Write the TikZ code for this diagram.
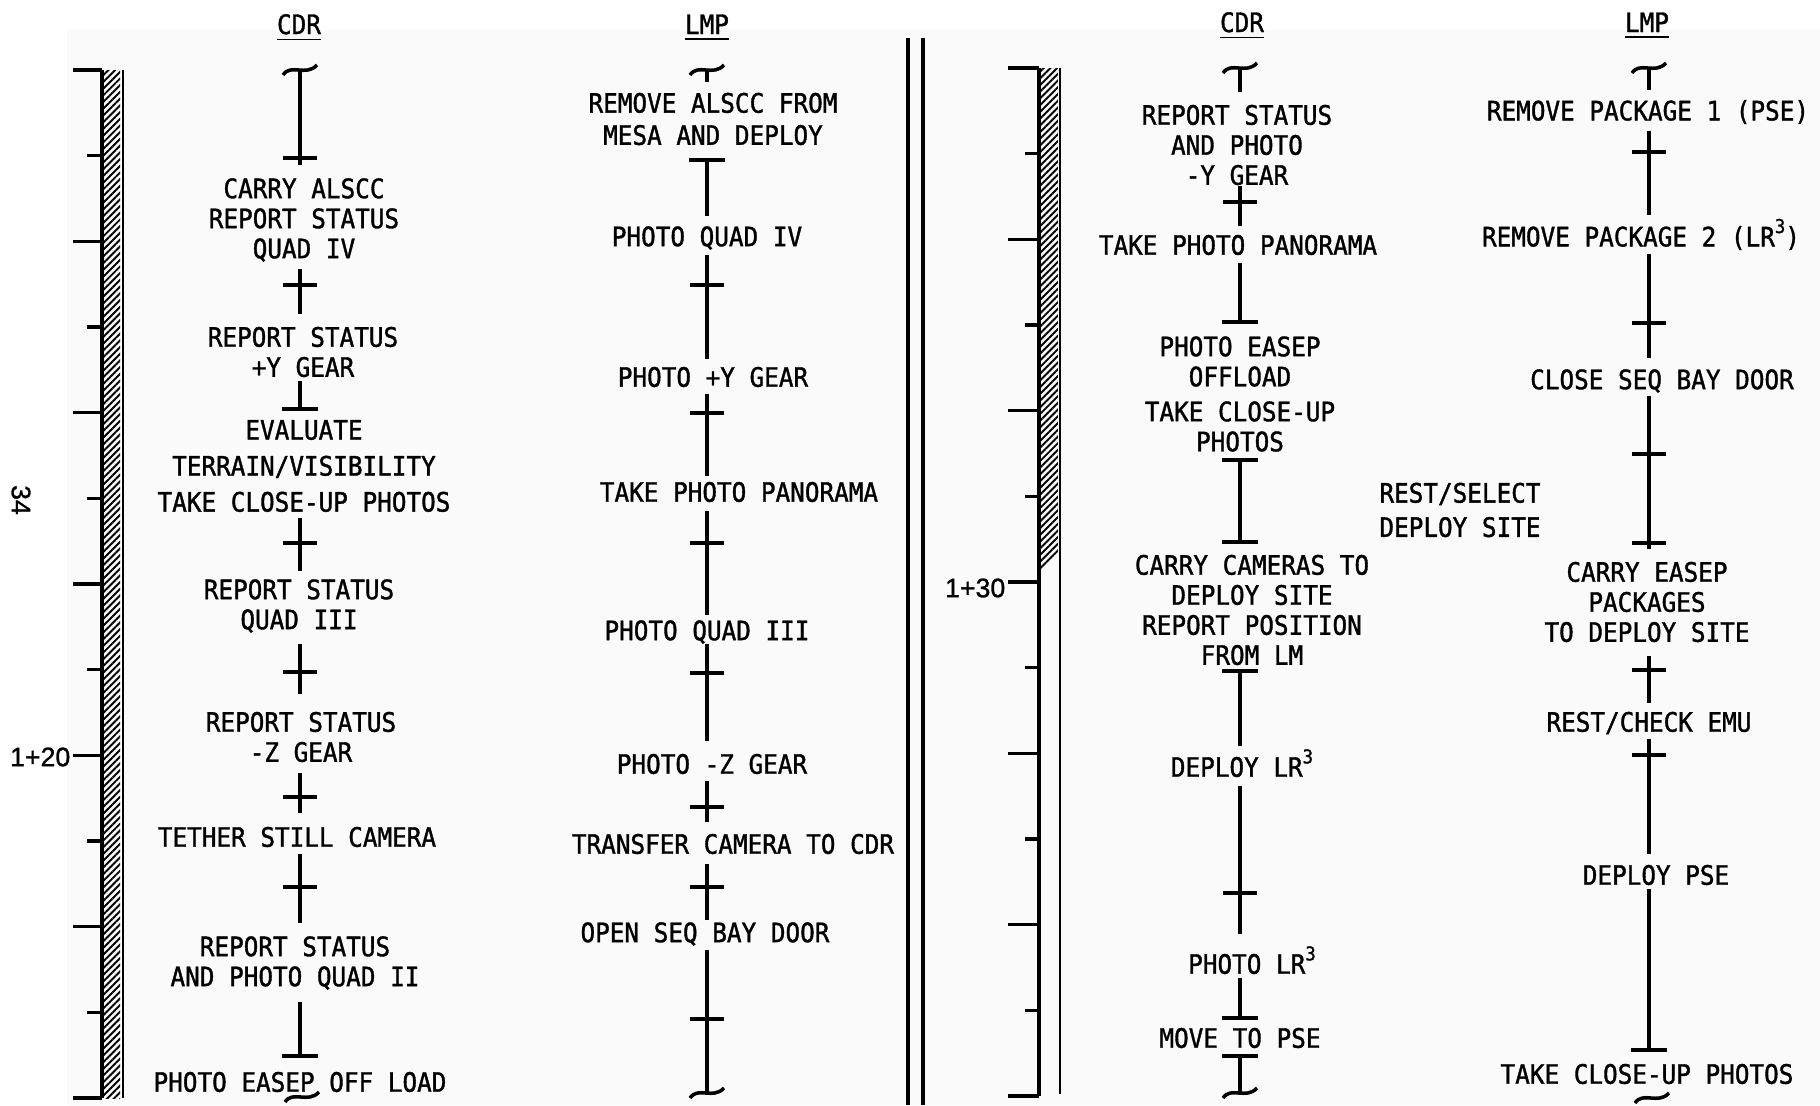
\documentclass[tikz,border=0pt]{standalone}
\usepackage{fontspec}
\usepackage{tikz}
\usetikzlibrary{arrows.meta,patterns.meta}
\newfontfamily\chkfont[FakeStretch=0.91,FakeBold=1.3]{DejaVu Sans Mono}
\newfontfamily\numfont[FakeBold=1]{Liberation Sans}
\newcommand\cubed{\smash{\raisebox{0.5em}{\fontsize{5.4}{5}\selectfont 3}}}
\tikzset{
  stepnote/.style={font=\chkfont\fontsize{7.6}{8.54}\selectfont, align=center, inner sep=0pt},
  headnote/.style={font=\chkfont\fontsize{7.6}{8.54}\selectfont, inner sep=0pt, anchor=base},
  timenote/.style={font=\numfont\fontsize{7.6}{9}\selectfont, inner sep=0pt},
  segline/.style={line width=1.1pt},
  barstart/.style={segline, arrows={Bar[width=0.36cm]-}},
  barend/.style={segline, arrows={-Bar[width=0.36cm]}},
  barboth/.style={segline, arrows={Bar[width=0.36cm]-Bar[width=0.36cm]}},
  axisline/.style={line width=1.2pt},
  thinaxis/.style={line width=0.8pt},
  tickline/.style={line width=1.0pt},
  hatchfill/.style={pattern={Lines[angle=45,distance=1.35pt,line width=0.55pt]}},
  crossmark/.pic={\draw[line width=0.9pt] (-17,0) -- (17,0);},
  breakmark/.pic={\draw[line width=1.0pt] (-17,5) .. controls (-9,-7) and (6,7) .. (17,-5);}
}
\begin{document}
\begin{tikzpicture}[x=0.01cm, y=-0.01cm]
    \useasboundingbox (0,0) rectangle (1820,1105);
    \fill[black!2] (67,30) rectangle (1820,1105);

    \path[hatchfill] (102,70) rectangle (120,1098);
    \draw[axisline] (102,70) -- (102,1098);
    \draw[thinaxis] (123,70) -- (123,1098);
    \foreach \i in {0,...,12}{
      \pgfmathsetmacro\yy{70+85.67*\i}
      \ifodd\i \draw[tickline] (87,\yy) -- (102,\yy); \else \draw[tickline] (73,\yy) -- (102,\yy); \fi
    }
    \begin{scope}
      \clip (1039,68) -- (1058,68) -- (1058,552) -- (1041,570) -- cycle;
      \path[hatchfill] (1039,68) rectangle (1058,570);
    \end{scope}
    \draw[axisline] (1039,68) -- (1039,1096);
    \draw[thinaxis] (1060,68) -- (1060,1094);
    \foreach \i in {0,...,12}{
      \pgfmathsetmacro\yy{68+85.67*\i}
      \ifodd\i \draw[tickline] (1025,\yy) -- (1039,\yy); \else \draw[tickline] (1008,\yy) -- (1039,\yy); \fi
    }
    \draw[axisline] (908,38) -- (908,1105);
    \draw[axisline] (923,38) -- (923,1105);

    \node[timenote, anchor=east] (time120) at (71,757) {1+20};
    \node[timenote, anchor=east] (time130) at (1006,588) {1+30};
    \node[timenote, rotate=-90] (pagenum) at (21,500) {34};

    \node[headnote] (lcdrhead) at (299,34) {\underline{CDR}};
    \node[headnote] (llmphead) at (707,34) {\underline{LMP}};
    \node[headnote] (rcdrhead) at (1242,32) {\underline{CDR}};
    \node[headnote] (rlmphead) at (1647,32) {\underline{LMP}};

    \coordinate (lcdrx) at (300,0);
    \coordinate (lcdr0) at (300,70);
    \node[stepnote] (lcdr1) at (304,220) {CARRY ALSCC\\REPORT STATUS\\QUAD IV};
    \node[stepnote] (lcdr2) at (303,352) {REPORT STATUS\\+Y GEAR};
    \node[stepnote] (lcdr3) at (304,466) {EVALUATE\\[1.7pt]TERRAIN/VISIBILITY\\[1.7pt]TAKE CLOSE-UP PHOTOS};
    \node[stepnote] (lcdr4) at (299,606) {REPORT STATUS\\QUAD III};
    \node[stepnote] (lcdr5) at (301,737) {REPORT STATUS\\-Z GEAR};
    \node[stepnote] (lcdr6) at (297,837) {TETHER STILL CAMERA};
    \node[stepnote] (lcdr7) at (295,963) {REPORT STATUS\\AND PHOTO QUAD II};
    \node[stepnote] (lcdr8) at (300,1082) {PHOTO EASEP OFF LOAD};
    \pic at (lcdr0) {breakmark};
    \draw[segline, shorten >=0.13cm] (lcdr0) -- (lcdr1.north -| lcdrx);
    \pic at (300,158) {crossmark};
    \draw[segline, shorten <=0.07cm, shorten >=0.12cm] (lcdr1.south -| lcdrx) -- (lcdr2.north -| lcdrx);
    \pic at (300,285) {crossmark};
    \draw[barend, shorten <=0.03cm, shorten >=0.08cm] (lcdr2.south -| lcdrx) -- (lcdr3.north -| lcdrx);
    \draw[segline, shorten <=0.05cm, shorten >=0.08cm] (lcdr3.south -| lcdrx) -- (lcdr4.north -| lcdrx);
    \pic at (300,543) {crossmark};
    \draw[segline, shorten <=0.11cm, shorten >=0.17cm] (lcdr4.south -| lcdrx) -- (lcdr5.north -| lcdrx);
    \pic at (300,672) {crossmark};
    \draw[segline, shorten <=0.10cm, shorten >=0.13cm] (lcdr5.south -| lcdrx) -- (lcdr6.north -| lcdrx);
    \pic at (300,797) {crossmark};
    \draw[segline, shorten <=0.06cm, shorten >=0.13cm] (lcdr6.south -| lcdrx) -- (lcdr7.north -| lcdrx);
    \pic at (300,887) {crossmark};
    \draw[barend, shorten <=0.12cm, shorten >=0.13cm] (lcdr7.south -| lcdrx) -- (lcdr8.north -| lcdrx);
    \pic at (302,1097) {breakmark};

    \coordinate (llmpx) at (707,0);
    \coordinate (llmp0) at (707,70);
    \node[stepnote] (llmp1) at (713,119) {REMOVE ALSCC FROM\\[0.6pt]MESA AND DEPLOY};
    \node[stepnote] (llmp2) at (707,238) {PHOTO QUAD IV};
    \node[stepnote] (llmp3) at (713,377) {PHOTO +Y GEAR};
    \node[stepnote] (llmp4) at (739,492) {TAKE PHOTO PANORAMA};
    \node[stepnote] (llmp5) at (707,632) {PHOTO QUAD III};
    \node[stepnote] (llmp6) at (712,764) {PHOTO -Z GEAR};
    \node[stepnote] (llmp7) at (733,844) {TRANSFER CAMERA TO CDR};
    \node[stepnote] (llmp8) at (705,934) {OPEN SEQ BAY DOOR};
    \coordinate (llmp9) at (707,1093);
    \pic at (llmp0) {breakmark};
    \draw[segline, shorten >=0.10cm] (llmp0) -- (llmp1.north -| llmpx);
    \draw[barstart, shorten <=0.12cm, shorten >=0.10cm] (llmp1.south -| llmpx) -- (llmp2.north -| llmpx);
    \draw[segline, shorten <=0.05cm, shorten >=0.07cm] (llmp2.south -| llmpx) -- (llmp3.north -| llmpx);
    \pic at (707,285) {crossmark};
    \draw[segline, shorten <=0.06cm, shorten >=0.05cm] (llmp3.south -| llmpx) -- (llmp4.north -| llmpx);
    \pic at (707,413) {crossmark};
    \draw[segline, shorten <=0.08cm, shorten >=0.05cm] (llmp4.south -| llmpx) -- (llmp5.north -| llmpx);
    \pic at (707,543) {crossmark};
    \draw[segline, shorten >=0.12cm] (llmp5.south -| llmpx) -- (llmp6.north -| llmpx);
    \pic at (707,673) {crossmark};
    \draw[segline, shorten <=0.06cm, shorten >=0.11cm] (llmp6.south -| llmpx) -- (llmp7.north -| llmpx);
    \pic at (707,807) {crossmark};
    \draw[segline, shorten <=0.09cm, shorten >=0.02cm] (llmp7.south -| llmpx) -- (llmp8.north -| llmpx);
    \pic at (707,887) {crossmark};
    \draw[segline, shorten <=0.04cm] (llmp8.south -| llmpx) -- (llmp9);
    \pic at (707,1019) {crossmark};
    \pic at (llmp9) {breakmark};

    \coordinate (rcdrx) at (1240,0);
    \coordinate (rcdr0) at (1240,68);
    \node[stepnote] (rcdr1) at (1237,145) {REPORT STATUS\\AND PHOTO\\-Y GEAR};
    \node[stepnote] (rcdr2) at (1238,245) {TAKE PHOTO PANORAMA};
    \node[stepnote] (rcdr3) at (1240,394) {PHOTO EASEP\\OFFLOAD\\[1.4pt]TAKE CLOSE-UP\\PHOTOS};
    \node[stepnote] (rcdr4) at (1252,610) {CARRY CAMERAS TO\\DEPLOY SITE\\REPORT POSITION\\FROM LM};
    \node[stepnote] (rcdr5) at (1242,767) {DEPLOY LR\cubed};
    \node[stepnote] (rcdr6) at (1252,964) {PHOTO LR\cubed};
    \node[stepnote] (rcdr7) at (1240,1038) {MOVE TO PSE};
    \coordinate (rcdr8) at (1240,1093);
    \node[stepnote] (restsite) at (1460,510) {REST/SELECT\\[1.2pt]DEPLOY SITE};
    \pic at (rcdr0) {breakmark};
    \draw[segline, shorten >=0.12cm] (rcdr0) -- (rcdr1.north -| rcdrx);
    \draw[segline, shorten >=0.08cm] (rcdr1.south -| rcdrx) -- (rcdr2.north -| rcdrx);
    \pic at (1240,202) {crossmark};
    \draw[barend, shorten <=0.07cm, shorten >=0.12cm] (rcdr2.south -| rcdrx) -- (rcdr3.north -| rcdrx);
    \draw[barboth, shorten <=0.06cm, shorten >=0.10cm] (rcdr3.south -| rcdrx) -- (rcdr4.north -| rcdrx);
    \draw[barstart, shorten <=0.03cm, shorten >=0.10cm] (rcdr4.south -| rcdrx) -- (rcdr5.north -| rcdrx);
    \draw[segline, shorten <=0.08cm, shorten >=0.19cm] (rcdr5.south -| rcdrx) -- (rcdr6.north -| rcdrx);
    \pic at (1240,893) {crossmark};
    \draw[barend, shorten <=0.03cm, shorten >=0.07cm] (rcdr6.south -| rcdrx) -- (rcdr7.north -| rcdrx);
    \draw[barstart, shorten <=0.05cm] (rcdr7.south -| rcdrx) -- (rcdr8);
    \pic at (rcdr8) {breakmark};

    \coordinate (rlmpx) at (1649,0);
    \coordinate (rlmp0) at (1649,68);
    \node[stepnote] (rlmp1) at (1648,112) {REMOVE PACKAGE 1 (PSE)};
    \node[stepnote] (rlmp2) at (1641,238) {REMOVE PACKAGE 2 (LR\cubed)};
    \node[stepnote] (rlmp3) at (1662,381) {CLOSE SEQ BAY DOOR};
    \node[stepnote] (rlmp4) at (1647,602) {CARRY EASEP\\PACKAGES\\TO DEPLOY SITE};
    \node[stepnote] (rlmp5) at (1649,723) {REST/CHECK EMU};
    \node[stepnote] (rlmp6) at (1656,875) {DEPLOY PSE};
    \node[stepnote] (rlmp7) at (1647,1074) {TAKE CLOSE-UP PHOTOS};
    \coordinate (rlmp8) at (1652,1098);
    \pic at (rlmp0) {breakmark};
    \draw[segline, shorten >=0.09cm] (rlmp0) -- (rlmp1.north -| rlmpx);
    \draw[segline, shorten <=0.06cm, shorten >=0.10cm] (rlmp1.south -| rlmpx) -- (rlmp2.north -| rlmpx);
    \pic at (1649,152) {crossmark};
    \draw[segline, shorten <=0.03cm, shorten >=0.11cm] (rlmp2.south -| rlmpx) -- (rlmp3.north -| rlmpx);
    \pic at (1649,323) {crossmark};
    \draw[segline, shorten <=0.03cm, shorten >=0.12cm] (rlmp3.south -| rlmpx) -- (rlmp4.north -| rlmpx);
    \pic at (1649,454) {crossmark};
    \pic at (1649,543) {crossmark};
    \draw[segline, shorten <=0.13cm, shorten >=0.08cm] (rlmp4.south -| rlmpx) -- (rlmp5.north -| rlmpx);
    \pic at (1649,670) {crossmark};
    \draw[segline, shorten <=0.04cm, shorten >=0.10cm] (rlmp5.south -| rlmpx) -- (rlmp6.north -| rlmpx);
    \pic at (1649,755) {crossmark};
    \draw[barend, shorten <=0.03cm, shorten >=0.11cm] (rlmp6.south -| rlmpx) -- (rlmp7.north -| rlmpx);
    \pic at (rlmp8) {breakmark};
\end{tikzpicture}
\end{document}
